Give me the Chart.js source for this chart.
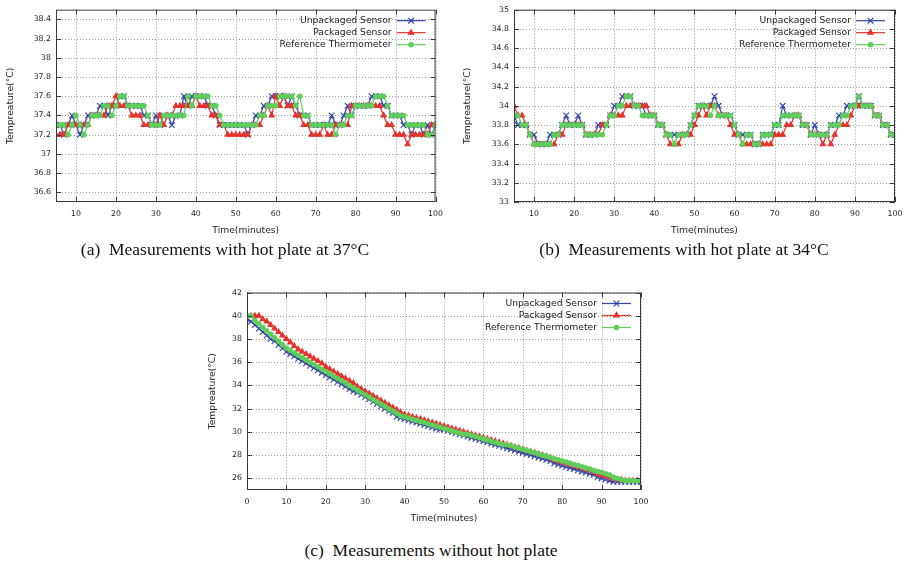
<!DOCTYPE html>
<html>
<head>
<meta charset="utf-8">
<script src="https://cdn.jsdelivr.net/npm/chart.js@4.4.1/dist/chart.umd.min.js"></script>
<style>
    body {
        margin: 0;
        background: #fff;
        width: 911px;
        height: 564px;
        position: relative;
        overflow: hidden;
    }
    canvas { position: absolute; }
    .caption {
        position: absolute;
        font-family: 'Liberation Serif', serif;
        font-size: 17.5px;
        line-height: 20px;
        color: #111;
        white-space: nowrap;
        transform: translateX(-50%);
    }
</style>
</head>
<body>
<canvas id="chartA" width="450" height="240" style="left:0px;top:0px"></canvas>
<canvas id="chartB" width="451" height="240" style="left:460px;top:0px"></canvas>
<canvas id="chartC" width="456" height="248" style="left:204px;top:280px"></canvas>
<div class="caption" style="left:225px;top:239px">(a)&nbsp; Measurements with hot plate at 37°C</div>
<div class="caption" style="left:684px;top:239px">(b)&nbsp; Measurements with hot plate at 34°C</div>
<div class="caption" style="left:431px;top:540px">(c)&nbsp; Measurements without hot plate</div>

<script>
const SERIES_NAMES = ["Unpackaged Sensor", "Packaged Sensor", "Reference Thermometer"];

// sample times (minutes) for the two hot plate runs
const minutesAB = [
    5, 6, 7, 8, 9, 10, 11, 12, 13, 14, 15, 16, 17, 18, 19, 20, 21, 22, 23, 24,
    25, 26, 27, 28, 29, 30, 31, 32, 33, 34, 35, 36, 37, 38, 39, 40, 41, 42, 43, 44,
    45, 46, 47, 48, 49, 50, 51, 52, 53, 54, 55, 56, 57, 58, 59, 60, 61, 62, 63, 64,
    65, 66, 67, 68, 69, 70, 71, 72, 73, 74, 75, 76, 77, 78, 79, 80, 81, 82, 83, 84,
    85, 86, 87, 88, 89, 90, 91, 92, 93, 94, 95, 96, 97, 98, 99, 100
];

// (a) hot plate at 37 C
const unpackedA = [
    37.3, 37.3, 37.2, 37.3, 37.4, 37.3, 37.2, 37.3, 37.4, 37.4,
    37.4, 37.5, 37.5, 37.4, 37.5, 37.5, 37.6, 37.6, 37.5, 37.5,
    37.5, 37.5, 37.4, 37.4, 37.3, 37.4, 37.3, 37.4, 37.4, 37.3,
    37.4, 37.4, 37.6, 37.5, 37.6, 37.6, 37.6, 37.6, 37.5, 37.5,
    37.4, 37.3, 37.3, 37.3, 37.3, 37.3, 37.3, 37.3, 37.2, 37.3,
    37.4, 37.4, 37.5, 37.5, 37.6, 37.6, 37.6, 37.6, 37.5, 37.6,
    37.5, 37.4, 37.4, 37.4, 37.3, 37.3, 37.3, 37.3, 37.3, 37.4,
    37.3, 37.3, 37.4, 37.5, 37.4, 37.5, 37.5, 37.5, 37.5, 37.6,
    37.6, 37.6, 37.5, 37.5, 37.4, 37.4, 37.4, 37.3, 37.3, 37.2,
    37.3, 37.3, 37.2, 37.3, 37.2, 37.3
];
const packedA = [
    37.2, 37.2, 37.2, 37.3, 37.3, 37.3, 37.3, 37.3, 37.3, 37.4,
    37.4, 37.4, 37.4, 37.5, 37.5, 37.6, 37.5, 37.5, 37.5, 37.4,
    37.4, 37.4, 37.3, 37.3, 37.3, 37.3, 37.4, 37.3, 37.4, 37.4,
    37.5, 37.5, 37.5, 37.5, 37.5, 37.6, 37.5, 37.5, 37.5, 37.4,
    37.4, 37.3, 37.3, 37.2, 37.2, 37.2, 37.2, 37.2, 37.2, 37.3,
    37.3, 37.3, 37.4, 37.5, 37.4, 37.6, 37.5, 37.6, 37.5, 37.5,
    37.4, 37.4, 37.3, 37.3, 37.2, 37.2, 37.2, 37.3, 37.2, 37.2,
    37.3, 37.3, 37.3, 37.3, 37.5, 37.5, 37.5, 37.5, 37.5, 37.5,
    37.5, 37.5, 37.4, 37.3, 37.3, 37.2, 37.2, 37.2, 37.1, 37.2,
    37.2, 37.2, 37.2, 37.2, 37.3, 37.3
];
const referenceA = [
    37.3, 37.3, 37.3, 37.2, 37.3, 37.4, 37.3, 37.2, 37.3, 37.4,
    37.4, 37.4, 37.5, 37.5, 37.4, 37.5, 37.6, 37.6, 37.5, 37.5,
    37.5, 37.5, 37.5, 37.4, 37.3, 37.3, 37.3, 37.4, 37.4, 37.4,
    37.4, 37.4, 37.4, 37.6, 37.5, 37.6, 37.6, 37.6, 37.6, 37.5,
    37.5, 37.4, 37.3, 37.3, 37.3, 37.3, 37.3, 37.3, 37.3, 37.3,
    37.3, 37.4, 37.4, 37.5, 37.5, 37.5, 37.6, 37.6, 37.6, 37.6,
    37.5, 37.6, 37.4, 37.4, 37.3, 37.3, 37.3, 37.3, 37.3, 37.3,
    37.2, 37.3, 37.3, 37.4, 37.4, 37.5, 37.5, 37.5, 37.5, 37.5,
    37.6, 37.6, 37.6, 37.5, 37.4, 37.4, 37.4, 37.4, 37.3, 37.3,
    37.3, 37.3, 37.3, 37.2, 37.2, 37.3
];

// (b) hot plate at 34 C
const unpackedB = [
    33.9, 33.8, 33.8, 33.8, 33.7, 33.7, 33.6, 33.6, 33.6, 33.7,
    33.7, 33.7, 33.8, 33.9, 33.8, 33.8, 33.9, 33.8, 33.7, 33.7,
    33.7, 33.8, 33.8, 33.8, 33.9, 34.0, 34.0, 34.1, 34.1, 34.1,
    34.0, 34.0, 34.0, 33.9, 33.9, 33.9, 33.8, 33.8, 33.7, 33.7,
    33.7, 33.7, 33.7, 33.7, 33.8, 33.9, 34.0, 34.0, 34.0, 34.0,
    34.1, 34.0, 33.9, 33.9, 33.9, 33.8, 33.7, 33.7, 33.7, 33.7,
    33.6, 33.6, 33.7, 33.7, 33.7, 33.8, 33.8, 34.0, 33.9, 33.9,
    33.9, 33.9, 33.8, 33.8, 33.7, 33.8, 33.7, 33.7, 33.7, 33.8,
    33.8, 33.9, 33.9, 34.0, 34.0, 34.0, 34.1, 34.0, 34.0, 34.0,
    33.9, 33.9, 33.8, 33.8, 33.7, 33.7
];
const packedB = [
    34.0, 33.9, 33.9, 33.8, 33.7, 33.6, 33.6, 33.6, 33.6, 33.6,
    33.6, 33.7, 33.7, 33.8, 33.8, 33.8, 33.8, 33.8, 33.7, 33.7,
    33.7, 33.7, 33.8, 33.8, 33.9, 33.9, 33.9, 33.9, 34.0, 34.0,
    34.0, 34.0, 34.0, 34.0, 33.9, 33.9, 33.8, 33.8, 33.7, 33.6,
    33.6, 33.6, 33.7, 33.7, 33.7, 33.8, 33.9, 34.0, 33.9, 34.0,
    34.0, 33.9, 33.9, 33.9, 33.8, 33.7, 33.7, 33.6, 33.6, 33.6,
    33.6, 33.6, 33.6, 33.6, 33.6, 33.7, 33.7, 33.7, 33.8, 33.8,
    33.9, 33.9, 33.8, 33.8, 33.7, 33.7, 33.7, 33.6, 33.7, 33.6,
    33.7, 33.8, 33.8, 33.8, 33.9, 34.0, 34.0, 34.0, 34.0, 34.0,
    33.9, 33.9, 33.8, 33.8, 33.7, 33.7
];
const referenceB = [
    33.9, 33.9, 33.8, 33.8, 33.7, 33.6, 33.6, 33.6, 33.6, 33.6,
    33.7, 33.7, 33.8, 33.8, 33.8, 33.8, 33.8, 33.8, 33.7, 33.7,
    33.7, 33.7, 33.7, 33.8, 33.9, 33.9, 34.0, 34.0, 34.1, 34.1,
    34.0, 34.0, 33.9, 33.9, 33.9, 33.9, 33.8, 33.8, 33.7, 33.7,
    33.6, 33.7, 33.7, 33.7, 33.8, 33.9, 34.0, 34.0, 34.0, 33.9,
    34.0, 33.9, 33.9, 33.9, 33.9, 33.8, 33.7, 33.6, 33.7, 33.7,
    33.6, 33.6, 33.7, 33.7, 33.7, 33.8, 33.8, 33.9, 33.9, 33.9,
    33.9, 33.9, 33.8, 33.8, 33.7, 33.7, 33.7, 33.7, 33.7, 33.8,
    33.8, 33.8, 33.9, 33.9, 34.0, 34.0, 34.1, 34.0, 34.0, 34.0,
    33.9, 33.9, 33.8, 33.8, 33.7, 33.7
];

// (c) cooling without hot plate
const minutesC = [
    0, 1, 2, 3, 4, 5, 6, 7, 8, 9, 10, 11, 12, 13, 14, 15, 16, 17, 18, 19,
    20, 21, 22, 23, 24, 25, 26, 27, 28, 29, 30, 31, 32, 33, 34, 35, 36, 37, 38, 39,
    40, 41, 42, 43, 44, 45, 46, 47, 48, 49, 50, 51, 52, 53, 54, 55, 56, 57, 58, 59,
    60, 61, 62, 63, 64, 65, 66, 67, 68, 69, 70, 71, 72, 73, 74, 75, 76, 77, 78, 79,
    80, 81, 82, 83, 84, 85, 86, 87, 88, 89, 90, 91, 92, 93, 94, 95, 96, 97, 98, 99, 100
];
const unpackedC = [
    39.7, 39.5, 39.2, 38.9, 38.6, 38.3, 38.0, 37.8, 37.5, 37.2,
    36.9, 36.7, 36.5, 36.3, 36.1, 35.9, 35.7, 35.5, 35.3, 35.1,
    34.9, 34.7, 34.5, 34.3, 34.1, 33.9, 33.7, 33.5, 33.4, 33.2,
    33.0, 32.8, 32.6, 32.4, 32.2, 32.0, 31.8, 31.6, 31.3, 31.2,
    31.1, 31.0, 30.9, 30.8, 30.7, 30.6, 30.5, 30.4, 30.3, 30.2,
    30.2, 30.1, 30.0, 29.9, 29.8, 29.7, 29.6, 29.5, 29.4, 29.3,
    29.2, 29.1, 29.0, 28.9, 28.8, 28.7, 28.6, 28.5, 28.4, 28.3,
    28.2, 28.1, 28.0, 27.9, 27.8, 27.7, 27.6, 27.5, 27.3, 27.2,
    27.1, 27.0, 26.9, 26.8, 26.7, 26.6, 26.5, 26.4, 26.3, 26.1,
    26.0, 25.9, 25.8, 25.7, 25.7, 25.7, 25.7, 25.7, 25.7, 25.7, 25.7
];
const packedC = [
    40.0, 40.0, 40.0, 40.0, 39.7, 39.5, 39.2, 38.9, 38.6, 38.3,
    38.0, 37.7, 37.4, 37.1, 36.9, 36.7, 36.5, 36.3, 36.1, 35.9,
    35.6, 35.4, 35.2, 35.0, 34.8, 34.6, 34.4, 34.2, 33.9, 33.7,
    33.5, 33.3, 33.1, 32.9, 32.7, 32.5, 32.3, 32.1, 31.9, 31.7,
    31.5, 31.4, 31.3, 31.2, 31.1, 31.0, 30.9, 30.8, 30.7, 30.6,
    30.5, 30.4, 30.3, 30.2, 30.1, 30.0, 29.9, 29.8, 29.7, 29.6,
    29.5, 29.4, 29.3, 29.2, 29.1, 29.0, 28.9, 28.8, 28.7, 28.6,
    28.5, 28.4, 28.3, 28.2, 28.1, 28.0, 27.9, 27.8, 27.6, 27.5,
    27.4, 27.3, 27.2, 27.1, 27.0, 26.9, 26.8, 26.7, 26.6, 26.4,
    26.3, 26.2, 26.1, 26.0, 25.9, 25.9, 25.8, 25.8, 25.8, 25.8, 25.8
];
const referenceC = [
    40.0, 40.0, 39.6, 39.3, 39.0, 38.7, 38.4, 38.1, 37.8, 37.5,
    37.2, 37.0, 36.8, 36.6, 36.4, 36.2, 36.0, 35.8, 35.6, 35.4,
    35.2, 35.0, 34.8, 34.6, 34.4, 34.2, 34.0, 33.8, 33.6, 33.4,
    33.2, 33.0, 32.8, 32.6, 32.4, 32.2, 32.0, 31.8, 31.6, 31.4,
    31.3, 31.2, 31.1, 31.0, 30.9, 30.8, 30.7, 30.6, 30.5, 30.4,
    30.3, 30.2, 30.1, 30.0, 29.9, 29.8, 29.8, 29.7, 29.6, 29.5,
    29.4, 29.3, 29.2, 29.1, 29.0, 28.9, 28.9, 28.8, 28.7, 28.6,
    28.5, 28.4, 28.3, 28.2, 28.1, 28.0, 27.9, 27.8, 27.7, 27.6,
    27.5, 27.4, 27.3, 27.2, 27.1, 27.0, 26.9, 26.8, 26.7, 26.6,
    26.5, 26.4, 26.3, 26.1, 26.0, 25.9, 25.8, 25.8, 25.8, 25.8, 25.8
];

// tick labels
const xTicksAB = [10, 20, 30, 40, 50, 60, 70, 80, 90, 100];
const yTicksA  = [36.6, 36.8, 37, 37.2, 37.4, 37.6, 37.8, 38, 38.2, 38.4];
const yTicksB  = [33, 33.2, 33.4, 33.6, 33.8, 34, 34.2, 34.4, 34.6, 34.8, 35];
const xTicksC  = [0, 10, 20, 30, 40, 50, 60, 70, 80, 90, 100];
const yTicksC  = [26, 28, 30, 32, 34, 36, 38, 40, 42];

const STYLE = [
    { color: "#3343a8", point: "crossRot", radius: 4,   order: 2 },
    { color: "#e8322c", point: "triangle", radius: 3,   order: 1 },
    { color: "#5fce5a", point: "circle",   radius: 2.2, order: 0 }
];

const FONT = "'DejaVu Sans', sans-serif";
const TEXT = "#222";

// dotted grid under the data, frame with inward tick marks over it
const framePlugin = {
    id: "frame",
    beforeDatasetsDraw(chart) {
        const { ctx, chartArea: a, scales } = chart;
        ctx.save();
        ctx.strokeStyle = "#9a9a9a";
        ctx.lineWidth = 1;
        ctx.setLineDash([1, 2]);
        ctx.beginPath();
        scales.x.ticks.forEach(t => {
            const px = Math.round(scales.x.getPixelForValue(t.value)) + 0.5;
            ctx.moveTo(px, a.top); ctx.lineTo(px, a.bottom);
        });
        scales.y.ticks.forEach(t => {
            const py = Math.round(scales.y.getPixelForValue(t.value)) + 0.5;
            ctx.moveTo(a.left, py); ctx.lineTo(a.right, py);
        });
        ctx.stroke();
        ctx.restore();
    },
    afterDatasetsDraw(chart) {
        const { ctx, chartArea: a, scales } = chart;
        ctx.save();
        ctx.strokeStyle = "#3a3a3a";
        ctx.lineWidth = 1;
        ctx.strokeRect(a.left + 0.5, a.top + 0.5, a.right - a.left - 1, a.bottom - a.top - 1);
        ctx.beginPath();
        scales.x.ticks.forEach(t => {
            const px = Math.round(scales.x.getPixelForValue(t.value)) + 0.5;
            ctx.moveTo(px, a.bottom); ctx.lineTo(px, a.bottom - 5);
            ctx.moveTo(px, a.top);    ctx.lineTo(px, a.top + 5);
        });
        scales.y.ticks.forEach(t => {
            const py = Math.round(scales.y.getPixelForValue(t.value)) + 0.5;
            ctx.moveTo(a.left, py);  ctx.lineTo(a.left + 5, py);
            ctx.moveTo(a.right, py); ctx.lineTo(a.right - 5, py);
        });
        ctx.stroke();
        ctx.restore();
    }
};

// key in the top right corner: label, then line sample with marker
const keyPlugin = {
    id: "key",
    afterDraw(chart) {
        const { ctx, chartArea: a } = chart;
        chart.data.datasets.forEach((ds, i) => {
            const y = a.top + 11 + i * 12;
            const x1 = a.right - 10, x0 = x1 - 29;
            ctx.save();
            ctx.strokeStyle = ds.borderColor;
            ctx.fillStyle = ds.backgroundColor;
            ctx.lineWidth = ds.borderWidth;
            ctx.beginPath();
            ctx.moveTo(x0, y);
            ctx.lineTo(x1, y);
            ctx.stroke();
            ctx.lineWidth = 1.2;
            Chart.helpers.drawPoint(ctx, { pointStyle: ds.pointStyle, radius: ds.pointRadius, rotation: 0, borderWidth: 1.2 }, (x0 + x1) / 2, y);
            ctx.fillStyle = TEXT;
            ctx.font = `9.2px ${FONT}`;
            ctx.textAlign = "right";
            ctx.textBaseline = "middle";
            ctx.fillText(ds.label, x0 - 5, y);
            ctx.restore();
        });
    }
};

function makeChart(id, cfg) {
    const datasets = cfg.series.map((vals, i) => ({
        label: SERIES_NAMES[i],
        data: cfg.minutes.map((t, k) => ({ x: t, y: vals[k] })),
        borderColor: STYLE[i].color,
        backgroundColor: STYLE[i].color,
        borderWidth: 1.2,
        pointStyle: STYLE[i].point,
        pointRadius: STYLE[i].radius,
        pointBorderWidth: 1.1,
        tension: 0,
        order: STYLE[i].order
    }));

    const fmt = v => String(Math.round(v * 10) / 10);
    // grid is drawn by the frame plugin; keep the library's own off
    const noGrid = { display: false, drawTicks: false, tickLength: 0 };

    return new Chart(document.getElementById(id), {
        type: "line",
        data: { datasets },
        options: {
            responsive: false,
            animation: false,
            layout: { padding: cfg.padding },
            plugins: { legend: { display: false }, tooltip: { enabled: false } },
            scales: {
                x: {
                    type: "linear",
                    min: cfg.xRange[0],
                    max: cfg.xRange[1],
                    afterBuildTicks: s => { s.ticks = cfg.xTicks.map(v => ({ value: v })); },
                    afterFit: s => { s.height = cfg.xAxisHeight; },
                    ticks: { callback: fmt, color: TEXT, font: { family: FONT, size: 7.8 }, padding: 7, maxRotation: 0, autoSkip: false },
                    grid: noGrid,
                    border: { display: false },
                    title: { display: true, text: "Time(minutes)", color: TEXT, font: { family: FONT, size: 9.2 }, padding: 3.5 }
                },
                y: {
                    type: "linear",
                    min: cfg.yRange[0],
                    max: cfg.yRange[1],
                    afterBuildTicks: s => { s.ticks = cfg.yTicks.map(v => ({ value: v })); },
                    afterFit: s => { s.width = cfg.yAxisWidth; },
                    ticks: { callback: fmt, color: TEXT, font: { family: FONT, size: 7.8 }, padding: 5, autoSkip: false },
                    grid: noGrid,
                    border: { display: false },
                    title: { display: true, text: "Tempreature(°C)", color: TEXT, font: { family: FONT, size: 9.2 }, padding: cfg.yTitlePad }
                }
            }
        },
        plugins: [framePlugin, keyPlugin]
    });
}

makeChart("chartA", {
    minutes: minutesAB,
    series: [unpackedA, packedA, referenceA],
    xRange: [5, 100], yRange: [36.5, 38.5],
    xTicks: xTicksAB, yTicks: yTicksA,
    padding: { left: 0, top: 5, right: 14, bottom: 0 },
    yAxisWidth: 56, xAxisHeight: 38, yTitlePad: 5.5
});

makeChart("chartB", {
    minutes: minutesAB,
    series: [unpackedB, packedB, referenceB],
    xRange: [5, 100], yRange: [33, 35],
    xTicks: xTicksAB, yTicks: yTicksB,
    padding: { left: 0, top: 5, right: 16, bottom: 0 },
    yAxisWidth: 54, xAxisHeight: 38, yTitlePad: 2
});

makeChart("chartC", {
    minutes: minutesC,
    series: [unpackedC, packedC, referenceC],
    xRange: [0, 100], yRange: [25, 42],
    xTicks: xTicksC, yTicks: yTicksC,
    padding: { left: 0, top: 12.5, right: 19, bottom: 0 },
    yAxisWidth: 43, xAxisHeight: 38, yTitlePad: 3.5
});
</script>
</body>
</html>
